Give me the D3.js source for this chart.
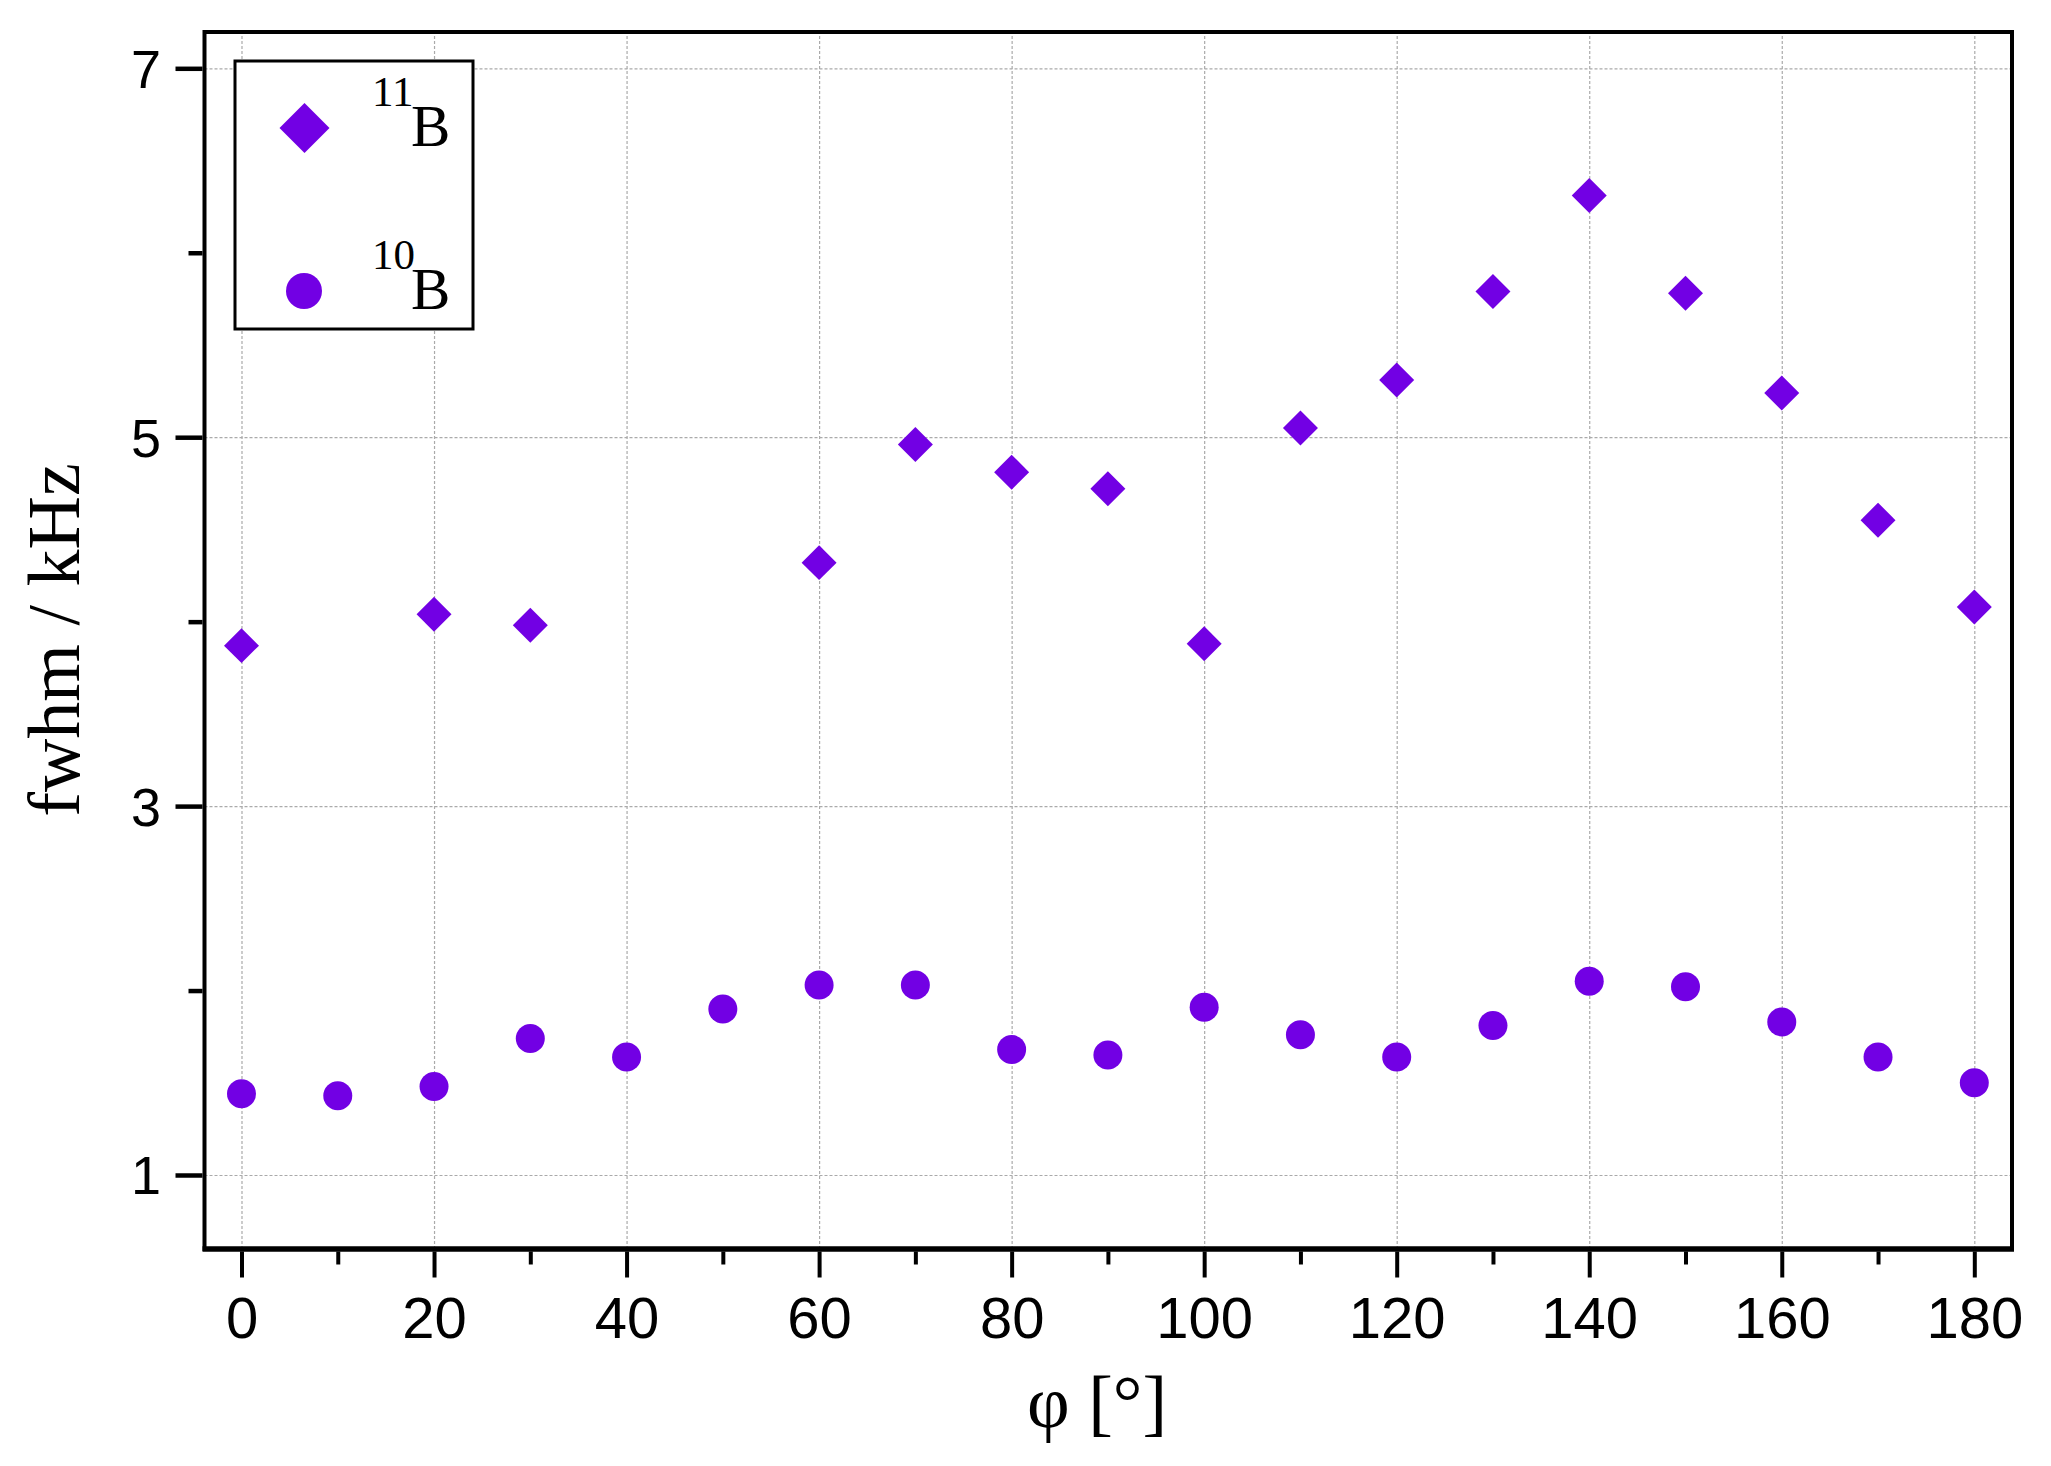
<!DOCTYPE html>
<html>
<head>
<meta charset="utf-8">
<script src="https://cdn.jsdelivr.net/npm/d3@7"></script>
<style>
  body { margin: 0; background: #fff; }
  .grid line { stroke: #aaaaaa; stroke-width: 1.2; stroke-dasharray: 3,2; }
  .grid path { display: none; }
</style>
</head>
<body>
<svg id="chart" width="2051" height="1466" viewBox="0 0 2051 1466"></svg>
<script>
// data
let b11Angle = [0, 20, 30, 60, 70, 80, 90, 100, 110, 120, 130, 140, 150, 160, 170, 180];
let b11Fwhm = [3.87, 4.04, 3.98, 4.32, 4.96, 4.81, 4.72, 3.88, 5.05, 5.31, 5.79, 6.31, 5.78, 5.24, 4.55, 4.08];
let b10Angle = [0, 10, 20, 30, 40, 50, 60, 70, 80, 90, 100, 110, 120, 130, 140, 150, 160, 170, 180];
let b10Fwhm = [1.44, 1.43, 1.48, 1.74, 1.64, 1.90, 2.03, 2.03, 1.68, 1.65, 1.91, 1.76, 1.64, 1.81, 2.05, 2.02, 1.83, 1.64, 1.50];
let xMajor = [0, 20, 40, 60, 80, 100, 120, 140, 160, 180];
let xMinor = [10, 30, 50, 70, 90, 110, 130, 150, 170];
let yMajor = [1, 3, 5, 7];
let yMinor = [2, 4, 6];

let color = "#7200e4";
let frame = {left: 204.5, right: 2012, top: 32, bottom: 1249};

let chart = d3.select("#chart");

let x = d3.scaleLinear([0, 180], [241.5, 1974.3]);
let y = d3.scaleLinear([1, 7], [1175, 68.3]);

// grid
chart.append("g")
    .attr("class", "grid")
    .attr("transform", `translate(0,${frame.bottom})`)
    .call(d3.axisBottom(x).tickValues(xMajor).tickFormat("")
        .tickSize(-(frame.bottom - frame.top)));

chart.append("g")
    .attr("class", "grid")
    .attr("transform", `translate(${frame.left},0)`)
    .call(d3.axisLeft(y).tickValues(yMajor).tickFormat("")
        .tickSize(-(frame.right - frame.left)));

// frame
chart.append("rect")
    .attr("x", frame.left)
    .attr("y", frame.top)
    .attr("width", frame.right - frame.left)
    .attr("height", frame.bottom - frame.top)
    .attr("fill", "none")
    .attr("stroke", "black")
    .attr("stroke-width", 4);

chart.append("line")
    .attr("x1", frame.left - 2)
    .attr("x2", frame.right + 2)
    .attr("y1", frame.bottom)
    .attr("y2", frame.bottom)
    .attr("stroke", "black")
    .attr("stroke-width", 5.5);

// x axis
let xAxisY = frame.bottom + 2.5;
let xAxis = chart.append("g")
    .attr("transform", `translate(0,${xAxisY})`)
    .call(d3.axisBottom(x).tickValues(xMajor).tickSize(26).tickFormat(d3.format("d")));
xAxis.select(".domain").remove();
xAxis.selectAll("line").attr("stroke-width", 4);
xAxis.selectAll("text")
    .attr("y", 1338 - xAxisY)
    .attr("dy", 0)
    .style("font-family", "'Liberation Sans', Arial, sans-serif")
    .style("font-size", "58px")
    .attr("fill", "black");

let xMinorAxis = chart.append("g")
    .attr("transform", `translate(0,${xAxisY})`)
    .call(d3.axisBottom(x).tickValues(xMinor).tickSize(13).tickFormat(""));
xMinorAxis.select(".domain").remove();
xMinorAxis.selectAll("line").attr("stroke-width", 4);

// y axis
let yAxisX = frame.left - 2;
let yAxis = chart.append("g")
    .attr("transform", `translate(${yAxisX},0)`)
    .call(d3.axisLeft(y).tickValues(yMajor).tickSize(27).tickFormat(d3.format("d")));
yAxis.select(".domain").remove();
yAxis.selectAll("line").attr("stroke-width", 4.5);
yAxis.selectAll("text")
    .attr("x", 161 - yAxisX)
    .attr("dy", "0.35em")
    .style("font-family", "'Liberation Sans', Arial, sans-serif")
    .style("font-size", "54px")
    .attr("fill", "black");

let yMinorAxis = chart.append("g")
    .attr("transform", `translate(${yAxisX},0)`)
    .call(d3.axisLeft(y).tickValues(yMinor).tickSize(14).tickFormat(""));
yMinorAxis.select(".domain").remove();
yMinorAxis.selectAll("line").attr("stroke-width", 4.5);

// axis titles
chart.append("text")
    .attr("transform", "translate(79,640) rotate(-90)")
    .attr("text-anchor", "middle")
    .style("font-family", "'Liberation Serif', 'Times New Roman', serif")
    .style("font-size", "74px")
    .text("fwhm / kHz");

chart.append("text")
    .attr("x", 1097)
    .attr("y", 1427)
    .attr("text-anchor", "middle")
    .style("font-family", "'Liberation Serif', 'Times New Roman', serif")
    .style("font-size", "74px")
    .text("φ [°]");

// data points
let diamond = d3.symbol().type(d3.symbolSquare).size(612);

chart.append("g")
    .selectAll("path")
    .data(b11Angle.map((a, i) => [a, b11Fwhm[i]]))
    .enter().append("path")
    .attr("d", diamond)
    .attr("transform", d => `translate(${x(d[0])},${y(d[1])}) rotate(45)`)
    .attr("fill", color);

chart.append("g")
    .selectAll("circle")
    .data(b10Angle.map((a, i) => [a, b10Fwhm[i]]))
    .enter().append("circle")
    .attr("cx", d => x(d[0]))
    .attr("cy", d => y(d[1]))
    .attr("r", 14.5)
    .attr("fill", color);

// legend
let legend = chart.append("g");
legend.append("rect")
    .attr("x", 235)
    .attr("y", 61)
    .attr("width", 238)
    .attr("height", 268)
    .attr("fill", "white")
    .attr("stroke", "black")
    .attr("stroke-width", 3);

legend.append("path")
    .attr("d", d3.symbol().type(d3.symbolSquare).size(1250))
    .attr("transform", "translate(304.5,128) rotate(45)")
    .attr("fill", color);

legend.append("circle")
    .attr("cx", 304)
    .attr("cy", 291)
    .attr("r", 18)
    .attr("fill", color);

let legendItems = [
    {mass: "11", supY: 106, baseY: 146},
    {mass: "10", supY: 269, baseY: 309}
];
legendItems.forEach(item => {
    legend.append("text")
        .attr("x", 372)
        .attr("y", item.supY)
        .style("font-family", "'Liberation Serif', 'Times New Roman', serif")
        .style("font-size", "43px")
        .text(item.mass);
    legend.append("text")
        .attr("x", 411)
        .attr("y", item.baseY)
        .style("font-family", "'Liberation Serif', 'Times New Roman', serif")
        .style("font-size", "59px")
        .text("B");
});
</script>
</body>
</html>
